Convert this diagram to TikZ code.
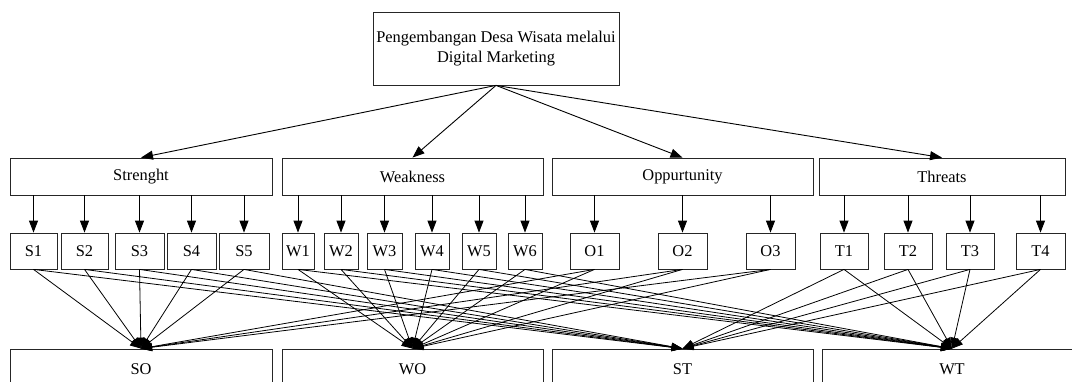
\documentclass[tikz,border=0pt]{standalone}
\usepackage{fontspec}
\setmainfont{Liberation Serif}
\usetikzlibrary{arrows.meta}
\begin{document}
\begin{tikzpicture}[x=1pt,y=-1pt,
  box/.style={draw=black!85,line width=0.8pt,rectangle,inner sep=0pt,font=\fontsize{16.4}{20}\selectfont,align=center},
  arr/.style={line width=0.9pt,-{Triangle[length=12pt,width=9pt]}},
  lnk/.style={line width=0.8pt,-{Triangle[length=11pt,width=8pt]}}]
\useasboundingbox (0,0) rectangle (1072,381);
\clip (0,0) rectangle (1072,381);
% top
\node[box,minimum width=246pt,minimum height=73pt] (top) at (496,48.5) {Pengembangan Desa Wisata melalui\\Digital Marketing};
% row 2
\node[box,minimum width=262pt,minimum height=37pt] (Str) at (141,176.5) {Strenght};
\node[box,minimum width=261pt,minimum height=37pt] (Wea) at (412.5,176.5) {Weakness};
\node[box,minimum width=261pt,minimum height=37pt] (Opp) at (682.5,176.5) {Oppurtunity};
\node[box,minimum width=246pt,minimum height=37pt] (Thr) at (942,176.5) {Threats};
% row 3
\foreach \n/\x/\w in {S1/33.5/47,S2/84.5/47,S3/139.5/49,S4/191.5/49,S5/244/50,
  W1/298/32,W2/341/34,W3/384.5/35,W4/432/34,W5/479/34,W6/525/34,
  O1/594.5/49,O2/682.5/49,O3/770.5/49,
  T1/844/48,T2/908/48,T3/970/48,T4/1040.5/49}
  \node[box,minimum width=\w pt,minimum height=36pt] (\n) at (\x,251) {\n};
% row 4
\node[box,minimum width=262pt,minimum height=40pt] (SO) at (141,369) {SO};
\node[box,minimum width=261pt,minimum height=40pt] (WO) at (412.5,369) {WO};
\node[box,minimum width=261pt,minimum height=40pt] (ST) at (682.5,369) {ST};
\node[box,minimum width=260pt,minimum height=40pt] (WT) at (952,369) {WT};
% top arrows
\foreach \t in {Str,Wea,Opp,Thr} \draw[arr] (top.south) -- (\t.north);
% category arrows
\foreach \c in {S1,S2,S3,S4,S5} \draw[arr] (\c |- Str.south) -- (\c.north);
\foreach \c in {W1,W2,W3,W4,W5,W6} \draw[arr] (\c |- Wea.south) -- (\c.north);
\foreach \c in {O1,O2,O3} \draw[arr] (\c |- Opp.south) -- (\c.north);
\foreach \c in {T1,T2,T3,T4} \draw[arr] (\c |- Thr.south) -- (\c.north);
% strategy links
\foreach \c in {S1,S2,S3,S4,S5,O1,O2,O3} \draw[lnk] (\c.south) -- (SO.north);
\foreach \c in {W1,W2,W3,W4,W5,W6,O1,O2,O3} \draw[lnk] (\c.south) -- (WO.north);
\foreach \c in {S1,S2,S3,S4,S5,T1,T2,T3,T4} \draw[lnk] (\c.south) -- (ST.north);
\foreach \c in {W1,W2,W3,W4,W5,W6,T1,T2,T3,T4} \draw[lnk] (\c.south) -- (WT.north);
\end{tikzpicture}
\end{document}
